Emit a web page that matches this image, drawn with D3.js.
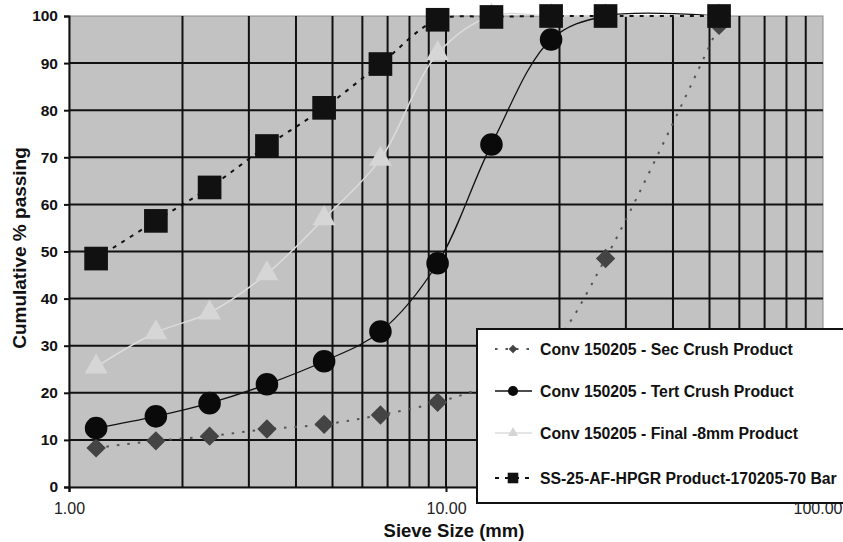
<!DOCTYPE html>
<html>
<head>
<meta charset="utf-8">
<script src="https://cdn.jsdelivr.net/npm/d3@7/dist/d3.min.js"></script>
<style>
  body { margin: 0; background: #fff; }
  svg { display: block; font-family: "Liberation Sans", Arial, sans-serif; }
</style>
</head>
<body>
<div id="chart"></div>
<script>
// sieve sizes (mm) used by every series
const sieves = [1.18, 1.7, 2.36, 3.35, 4.75, 6.7, 9.5, 13.2, 19, 26.5, 53];

// cumulative % passing
const secCrush = [8.3, 9.8, 10.8, 12.3, 13.3, 15.3, 18, 22, 30, 48.5, 98];
const tertCrush = [12.5, 15, 17.8, 21.8, 26.7, 33, 47.5, 72.7, 95, 100, 100];
const finalProduct = [25.5, 32.8, 37, 45.3, 57, 69.6, 92, 100, 100, 100, 100];
const hpgrProduct = [48.5, 56.5, 63.6, 72.4, 80.5, 89.8, 99.2, 99.8, 100, 100, 100];

const seriesNames = [
  "Conv 150205 - Sec Crush Product",
  "Conv 150205 - Tert Crush Product",
  "Conv 150205 - Final -8mm Product",
  "SS-25-AF-HPGR Product-170205-70 Bar"
];
const yTicks = [0, 10, 20, 30, 40, 50, 60, 70, 80, 90, 100];
const xTickLabels = ["1.00", "10.00", "100.00"];

// set the dimensions of the plot area
const W = 843, H = 542;
const plot = {left: 69, right: 823, top: 16, bottom: 487};

const svg = d3.select("#chart").append("svg")
  .attr("width", W)
  .attr("height", H);

const x = d3.scaleLog().domain([1, 100]).range([plot.left, plot.right]);
const y = d3.scaleLinear().domain([0, 100]).range([plot.bottom, plot.top]);

// plot background
svg.append("rect")
  .attr("x", plot.left).attr("y", plot.top)
  .attr("width", plot.right - plot.left).attr("height", plot.bottom - plot.top)
  .attr("fill", "#c2c2c2")
  .attr("stroke", "#8a8a8a")
  .attr("stroke-width", 1);

// gridlines
const vLines = [];
for (let d = 1; d < 100; d *= 10) {
  for (let k = 2; k <= 9; k++) vLines.push(d * k);
}
vLines.push(10);
svg.append("g").selectAll("line")
  .data(vLines)
  .join("line")
  .attr("x1", d => x(d)).attr("x2", d => x(d))
  .attr("y1", plot.top).attr("y2", plot.bottom)
  .attr("stroke", "#111").attr("stroke-width", 2);

svg.append("g").selectAll("line")
  .data(yTicks.filter(t => t > 0 && t < 100))
  .join("line")
  .attr("x1", plot.left).attr("x2", plot.right)
  .attr("y1", d => y(d)).attr("y2", d => y(d))
  .attr("stroke", "#111").attr("stroke-width", 2);

// axes
const yAxis = svg.append("g")
  .attr("transform", `translate(${plot.left},0)`)
  .call(d3.axisLeft(y).tickValues(yTicks).tickSize(5).tickPadding(6));
yAxis.select(".domain").attr("stroke", "#111").attr("stroke-width", 2);
yAxis.selectAll(".tick line").attr("stroke", "#111").attr("stroke-width", 2);
yAxis.selectAll("text")
  .attr("font-size", 15.5).attr("font-weight", "bold")
  .attr("font-family", "Liberation Sans, Arial, sans-serif")
  .attr("fill", "#111");

const xAxis = svg.append("g")
  .attr("transform", `translate(0,${plot.bottom})`)
  .call(d3.axisBottom(x).tickValues([1, 10, 100]).tickSize(5).tickPadding(11)
    .tickFormat((d, i) => xTickLabels[i]));
xAxis.select(".domain").attr("stroke", "#111").attr("stroke-width", 2);
xAxis.selectAll(".tick line").attr("stroke", "#111").attr("stroke-width", 2);
xAxis.selectAll("text")
  .attr("font-size", 16)
  .attr("font-family", "Liberation Sans, Arial, sans-serif")
  .attr("fill", "#222");
// last label sits against the right edge, as in the original
xAxis.selectAll(".tick text").filter((d, i) => i === 2)
  .attr("text-anchor", "end")
  .attr("dx", 842 - plot.right);

// axis titles
svg.append("text")
  .attr("x", 454).attr("y", 537)
  .attr("text-anchor", "middle")
  .attr("font-size", 18.5).attr("font-weight", "bold")
  .attr("fill", "#111")
  .text("Sieve Size (mm)");

svg.append("text")
  .attr("transform", `translate(26,248) rotate(-90)`)
  .attr("text-anchor", "middle")
  .attr("font-size", 19).attr("font-weight", "bold")
  .attr("fill", "#111")
  .text("Cumulative % passing");

// series
const series = [
  {name: seriesNames[0], values: secCrush, color: "#555", dash: "2.5,8", width: 2, shape: d3.symbolDiamond2, size: 240, fill: "#444"},
  {name: seriesNames[1], values: tertCrush, color: "#111", dash: null, width: 1.3, shape: d3.symbolCircle, size: 400, fill: "#0a0a0a"},
  {name: seriesNames[2], values: finalProduct, color: "#dcdcdc", dash: null, width: 1.5, shape: d3.symbolTriangle, size: 230, fill: "#d6d6d6"},
  {name: seriesNames[3], values: hpgrProduct, color: "#111", dash: "4,6", width: 2, shape: d3.symbolSquare, size: 560, fill: "#111"}
];

const line = d3.line()
  .x(d => x(d[0]))
  .y(d => y(d[1]))
  .curve(d3.curveCatmullRom.alpha(0.5));

series.forEach(s => {
  const pts = sieves.map((sv, i) => [sv, s.values[i]]);
  svg.append("path")
    .datum(pts)
    .attr("d", line)
    .attr("fill", "none")
    .attr("stroke", s.color)
    .attr("stroke-width", s.width)
    .attr("stroke-dasharray", s.dash);
  svg.append("g").selectAll("path")
    .data(pts)
    .join("path")
    .attr("d", d3.symbol().type(s.shape).size(s.size))
    .attr("transform", d => `translate(${x(d[0])},${y(d[1])})`)
    .attr("fill", s.fill);
});

// legend (runs off the right edge like the original)
const lg = svg.append("g").attr("transform", "translate(477,329)");
lg.append("rect")
  .attr("width", 380).attr("height", 174)
  .attr("fill", "#fff")
  .attr("stroke", "#111").attr("stroke-width", 2);

const rowY = [20, 62, 104, 149];
series.forEach((s, i) => {
  const row = lg.append("g").attr("transform", `translate(0,${rowY[i]})`);
  row.append("line")
    .attr("x1", 18).attr("x2", 55)
    .attr("stroke", s.color)
    .attr("stroke-width", s.width)
    .attr("stroke-dasharray", s.dash);
  row.append("path")
    .attr("d", d3.symbol().type(s.shape).size(s.size * 0.2))
    .attr("transform", "translate(36,0)")
    .attr("fill", s.fill);
  row.append("text")
    .attr("x", 63).attr("y", 5.5)
    .attr("font-size", 15.8).attr("font-weight", "bold")
    .attr("fill", "#111")
    .text(s.name);
});
</script>
</body>
</html>
